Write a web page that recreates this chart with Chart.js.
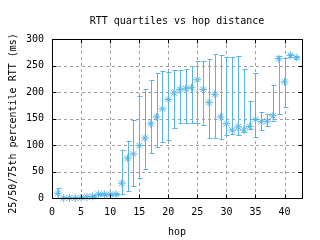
<!DOCTYPE html>
<html><head><meta charset="utf-8">
<script src="https://cdn.jsdelivr.net/npm/chart.js@4/dist/chart.umd.min.js"></script>
<style>html,body{margin:0;padding:0;background:#fff}#wrap{width:320px;height:240px}</style>
</head><body><div id="wrap"><canvas id="c" width="320" height="240"></canvas></div>
<script>
const hops = [1,2,3,4,5,6,7,8,9,10,11,12,13,14,15,16,17,18,19,20,21,22,23,24,25,26,27,28,29,30,31,32,33,34,35,36,37,38,39,40,41,42];
const medianRTT = [9,0,0,0,0.5,2,3,7,7,7,7,28,75,83,99,113,140,153,168,186,198,205,206,208,223,205,180,196,153,140,128,134,128,135,148,144,145,155,263,219,269,265];
const q1RTT = [0,0,0,0,0,0,1,5,5,5,5,8,13,23,38,55,85,96,106,110,132,141,141,141,141,137,113,113,111,118,120,118,124,130,116,128,136,145,159,172,266,262];
const q3RTT = [18,1,1,1,2,4,5,10,10,10,10,90,108,147,192,206,223,235,240,238,242,242,243,250,258,258,262,272,270,266,266,268,243,183,235,162,158,213,268,265,272,268];
const xTicks = [0,5,10,15,20,25,30,35,40];
const yTicks = [0,50,100,150,200,250,300];
const yTitle = '25/50/75th percentile RTT (ms)';

const BLUE = 'rgb(86,180,233)';
const FONT = {family: "'DejaVu Sans Mono', monospace", size: 10, weight: 'normal'};

const gridLines = {
  id: 'gridLines',
  beforeDatasetsDraw(chart) {
    const {ctx, chartArea: a, scales: {x, y}} = chart;
    ctx.save();
    ctx.strokeStyle = '#a0a0a0';
    ctx.lineWidth = 1;
    ctx.setLineDash([3, 3]);
    ctx.beginPath();
    xTicks.forEach(v => {
      const px = Math.round(x.getPixelForValue(v)) + 0.5;
      ctx.moveTo(px, a.bottom); ctx.lineTo(px, a.top);
    });
    yTicks.forEach(v => {
      const py = Math.round(y.getPixelForValue(v)) + 0.5;
      ctx.moveTo(a.left, py); ctx.lineTo(a.right, py);
    });
    ctx.stroke();
    ctx.restore();
  }
};

const errorBars = {
  id: 'errorBars',
  afterDatasetsDraw(chart) {
    const {ctx, scales: {x, y}} = chart;
    ctx.save();
    ctx.setLineDash([]);
    ctx.strokeStyle = BLUE;
    ctx.lineWidth = 1;
    ctx.beginPath();
    hops.forEach((h, i) => {
      const px = Math.round(x.getPixelForValue(h)) + 0.5;
      const yl = Math.round(y.getPixelForValue(q1RTT[i])) + 0.5;
      const yh = Math.round(y.getPixelForValue(q3RTT[i])) + 0.5;
      ctx.moveTo(px, yl); ctx.lineTo(px, yh);
      ctx.moveTo(px - 2, yl); ctx.lineTo(px + 3, yl);
      ctx.moveTo(px - 2, yh); ctx.lineTo(px + 3, yh);
    });
    ctx.stroke();
    ctx.restore();
  }
};

const frame = {
  id: 'frame',
  afterDraw(chart) {
    const {ctx, chartArea: a, scales: {x, y}} = chart;
    ctx.save();
    ctx.setLineDash([]);
    ctx.strokeStyle = '#000';
    ctx.lineWidth = 1;
    const L = Math.round(a.left) + 0.5, R = Math.round(a.right) + 0.5;
    const T = Math.round(a.top) + 0.5, B = Math.round(a.bottom) + 0.5;
    ctx.strokeRect(L, T, R - L, B - T);
    ctx.beginPath();
    xTicks.forEach(v => {
      const px = Math.round(x.getPixelForValue(v)) + 0.5;
      ctx.moveTo(px, B); ctx.lineTo(px, B - 4);
      ctx.moveTo(px, T); ctx.lineTo(px, T + 4);
    });
    yTicks.forEach(v => {
      const py = Math.round(y.getPixelForValue(v)) + 0.5;
      ctx.moveTo(L, py); ctx.lineTo(L + 4, py);
      ctx.moveTo(R, py); ctx.lineTo(R - 4, py);
    });
    ctx.stroke();
    // y axis title
    ctx.translate(13, (a.top + a.bottom) / 2 + 5);
    ctx.rotate(-Math.PI / 2);
    ctx.fillStyle = '#000';
    ctx.font = "10px 'DejaVu Sans Mono', monospace";
    ctx.textAlign = 'center';
    ctx.textBaseline = 'middle';
    ctx.fillText(yTitle, 0, 0);
    ctx.restore();
  }
};

new Chart(document.getElementById('c'), {
  type: 'scatter',
  data: {
    datasets: [{
      data: hops.map((h, i) => ({x: h, y: medianRTT[i]})),
      pointStyle: 'star',
      radius: 4,
      borderColor: BLUE,
      backgroundColor: BLUE,
      borderWidth: 1,
      clip: false
    }]
  },
  options: {
    responsive: false,
    animation: false,
    events: [],
    layout: {padding: {left: 0, right: 18, top: 0, bottom: 0}},
    plugins: {
      legend: {display: false},
      tooltip: {enabled: false},
      title: {display: true, fullSize: false, text: 'RTT quartiles vs hop distance', color: '#000', font: FONT, padding: {top: 15, bottom: 12}}
    },
    scales: {
      x: {
        type: 'linear', min: 0, max: 43,
        afterBuildTicks: s => { s.ticks = xTicks.map(v => ({value: v})); },
        afterFit: s => { s.height = 42; },
        ticks: {color: '#000', font: FONT, padding: 8, maxRotation: 0},
        grid: {display: false, drawTicks: false},
        border: {display: false},
        title: {display: true, text: 'hop', color: '#000', font: FONT, padding: {top: 2, bottom: 2}}
      },
      y: {
        type: 'linear', min: 0, max: 300,
        afterBuildTicks: s => { s.ticks = yTicks.map(v => ({value: v})); },
        afterFit: s => { s.width = 52; },
        ticks: {color: '#000', font: FONT, padding: 8},
        grid: {display: false, drawTicks: false},
        border: {display: false}
      }
    }
  },
  plugins: [gridLines, errorBars, frame]
});
</script>
</body></html>
